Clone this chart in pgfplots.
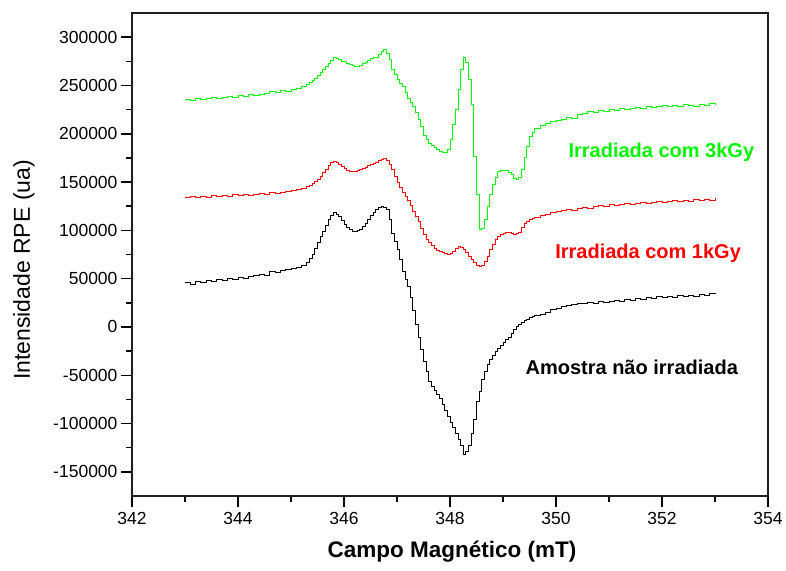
\documentclass[border=0pt]{standalone}
\usepackage{fontspec}
\setmainfont{Liberation Sans}
\usepackage{pgfplots}
\pgfplotsset{compat=1.18}

\definecolor{epr3k}{RGB}{0,245,0}
\definecolor{epr1k}{RGB}{255,0,0}
\definecolor{framecol}{RGB}{30,30,30}

\begin{document}
\begin{tikzpicture}
\useasboundingbox (-132pt,-74pt) rectangle (654pt,496pt);
\begin{axis}[
  name=epr,
  scale only axis,
  width=636pt, height=483pt,
  xmin=342, xmax=354,
  ymin=-175000, ymax=325000,
  xtick={342,344,...,354},
  ytick={-150000,-100000,...,300000},
  minor x tick num=1,
  minor y tick num=1,
  tick pos=left,
  tick align=outside,
  major tick length=11pt,
  minor tick length=5.5pt,
  major tick style={black, line width=1.5pt},
  minor tick style={black, line width=1.5pt},
  axis line style={line width=2.4pt},
  scaled y ticks=false,
  /pgf/number format/assume math mode=true,
  yticklabel style={/pgf/number format/fixed, /pgf/number format/1000 sep={}},
  xticklabel style={/pgf/number format/1000 sep={}},
  ticklabel style={font=\fontsize{17.5}{20}\selectfont},
  xticklabel style={yshift=-2pt},
  xlabel={\bfseries Campo Magnético (mT)},
  ylabel={Intensidade RPE (ua)},
  every axis x label/.style={at={(axis description cs:0.503,-0.116)}, anchor=center, font=\fontsize{22.5}{26}\selectfont},
  every axis y label/.style={at={(axis description cs:-0.170,0.468)}, rotate=90, anchor=center, font=\fontsize{23}{26}\selectfont},
  every axis plot/.append style={const plot, line width=0.9pt, line join=miter},
]

% sample irradiated with 3 kGy
\addplot[epr3k] coordinates {
(343.0,235500) (343.1,234400) (343.2,236500) (343.3,235500) (343.4,236500)
(343.5,237500) (343.6,236500) (343.7,237500) (343.8,238600) (343.9,237500)
(344.0,239600) (344.1,238600) (344.2,240600) (344.3,239600) (344.4,240600)
(344.5,241700) (344.6,243700) (344.7,242700) (344.8,244800) (344.9,243700)
(345.0,245800) (345.1,246800) (345.2,248900) (345.3,251000)
(345.35,253000) (345.4,255100) (345.45,257200) (345.5,260300) (345.55,263400)
(345.6,266500) (345.65,269600) (345.7,272700) (345.75,275800) (345.8,279000)
(345.85,277900) (345.9,276900) (345.95,274800) (346.0,274800) (346.05,272700)
(346.1,271700) (346.15,270700) (346.2,269600) (346.25,269600) (346.3,270700)
(346.35,272700) (346.4,273700) (346.45,275800) (346.5,277900) (346.55,279000)
(346.6,279000) (346.65,282000) (346.7,285200) (346.75,287200) (346.8,283100)
(346.85,276900) (346.9,266500) (346.95,261300) (347.0,256200) (347.05,252000)
(347.1,248900) (347.15,242700) (347.2,236500) (347.25,232400) (347.3,228200)
(347.35,222000) (347.4,214800) (347.45,207500) (347.5,198200) (347.55,194100)
(347.6,190000) (347.65,187900) (347.7,185800) (347.75,183700) (347.8,181600)
(347.85,180600) (347.9,180600) (347.95,183700) (348.0,194100) (348.05,209600)
(348.1,225100) (348.15,245800) (348.2,266500) (348.25,279000) (348.3,273700)
(348.35,256200) (348.4,230300) (348.45,176500) (348.5,137100) (348.55,100900)
(348.6,101900) (348.65,111300) (348.7,124700) (348.75,137100) (348.8,147500)
(348.85,154700) (348.9,160900) (348.95,162000) (349.0,162000) (349.05,162000)
(349.1,159900) (349.15,157800) (349.2,153700) (349.25,152700) (349.3,154700)
(349.35,163000) (349.4,175400) (349.45,186800) (349.5,197200) (349.55,201300)
(349.6,205400) (349.7,208600) (349.8,210600) (349.9,212700) (350.0,213700)
(350.1,214800) (350.2,216800) (350.3,215800) (350.4,219900) (350.5,221000)
(350.6,223000) (350.7,222000) (350.8,224100) (350.9,223000) (351.0,225100)
(351.1,224100) (351.2,226200) (351.3,225100) (351.4,226200) (351.5,227200)
(351.6,226200) (351.7,228200) (351.8,227200) (351.9,228200) (352.0,229300)
(352.1,228200) (352.2,229300) (352.3,228200) (352.4,230300) (352.5,229300)
(352.6,228200) (352.7,230300) (352.8,229300) (352.9,231300) (353.0,229300)
};

% sample irradiated with 1 kGy
\addplot[epr1k] coordinates {
(343.0,134000) (343.1,135100) (343.2,134000) (343.3,135100) (343.4,134000)
(343.5,136100) (343.6,135100) (343.7,136100) (343.8,135100) (343.9,137100)
(344.0,136100) (344.1,137100) (344.2,136100) (344.3,137100) (344.4,138200)
(344.5,137100) (344.6,139200) (344.7,138200) (344.8,139200) (344.9,140200)
(345.0,141300) (345.1,142300) (345.2,143400) (345.3,145400)
(345.35,146500) (345.4,148500) (345.45,150600) (345.5,152700) (345.55,155800)
(345.6,159900) (345.65,163000) (345.7,167200) (345.75,170300) (345.8,171300)
(345.85,170300) (345.9,168200) (345.95,166100) (346.0,164000) (346.05,162000)
(346.1,160900) (346.15,160900) (346.2,160900) (346.25,162000) (346.3,163000)
(346.35,164000) (346.4,165100) (346.45,167200) (346.5,168200) (346.55,169300)
(346.6,170300) (346.65,172400) (346.7,173400) (346.75,174400) (346.8,172400)
(346.85,168200) (346.9,163000) (346.95,155800) (347.0,149600) (347.05,144400)
(347.1,139200) (347.15,135100) (347.2,130900) (347.25,125800) (347.3,119500)
(347.35,114400) (347.4,109200) (347.45,101900) (347.5,95700) (347.55,90600)
(347.6,87500) (347.65,84400) (347.7,81200) (347.75,79200) (347.8,78100)
(347.85,77100) (347.9,76000) (347.95,75000) (348.0,76000) (348.05,78100)
(348.1,81200) (348.15,83300) (348.2,82300) (348.25,80200) (348.3,77100)
(348.35,73000) (348.4,69900) (348.45,66800) (348.5,63600) (348.55,62600)
(348.6,63600) (348.65,67800) (348.7,73000) (348.75,80200) (348.8,85400)
(348.85,90600) (348.9,93700) (348.95,95700) (349.0,96800) (349.05,97800)
(349.1,97800) (349.15,96800) (349.2,95700) (349.25,96800) (349.3,97800)
(349.35,103000) (349.4,107100) (349.45,109200) (349.5,111300) (349.55,112300)
(349.6,113300) (349.7,115400) (349.8,116400) (349.9,118500)
(350.0,119500) (350.1,120600) (350.2,121600) (350.3,120600) (350.4,122700)
(350.5,123700) (350.6,122700) (350.7,124700) (350.8,125800) (350.9,124700)
(351.0,126800) (351.1,125800) (351.2,126800) (351.3,127800) (351.4,126800)
(351.5,127800) (351.6,128900) (351.7,127800) (351.8,128900) (351.9,129900)
(352.0,128900) (352.1,129900) (352.2,130900) (352.3,129900) (352.4,130900)
(352.5,129900) (352.6,132000) (352.7,130900) (352.8,132000) (352.9,130900)
(353.0,133000)
};

% non-irradiated sample
\addplot[black] coordinates {
(343.0,46100) (343.1,44000) (343.2,47100) (343.3,46100) (343.4,48100)
(343.5,47100) (343.6,49200) (343.7,48100) (343.8,50200) (343.9,49200)
(344.0,51200) (344.1,50200) (344.2,52300) (344.3,53300) (344.4,54400)
(344.5,53300) (344.6,57400) (344.7,56400) (344.8,58500) (344.9,59500)
(345.0,60600) (345.1,61600) (345.2,63600) (345.3,66800)
(345.35,70900) (345.4,75000) (345.45,81200) (345.5,87500) (345.55,93700)
(345.6,98800) (345.65,105100) (345.7,111300) (345.75,115400) (345.8,118500)
(345.85,116400) (345.9,114400) (345.95,110200) (346.0,106100) (346.05,103000)
(346.1,100900) (346.15,98800) (346.2,98800) (346.25,99900) (346.3,100900)
(346.35,104000) (346.4,107100) (346.45,111300) (346.5,115400) (346.55,118500)
(346.6,121600) (346.65,123700) (346.7,124700) (346.75,123700) (346.8,121600)
(346.85,111300) (346.9,96800) (346.95,88500) (347.0,80200) (347.05,69900)
(347.1,57400) (347.15,49200) (347.2,41900) (347.25,30500) (347.3,17100)
(347.35,2600) (347.4,-11000) (347.45,-23300) (347.5,-35700) (347.55,-46100)
(347.6,-56400) (347.65,-61600) (347.7,-65700) (347.75,-69900) (347.8,-74000)
(347.85,-80200) (347.9,-86400) (347.95,-92600) (348.0,-98800) (348.05,-104000)
(348.1,-110200) (348.15,-116400) (348.2,-122600) (348.25,-132000) (348.3,-128900)
(348.35,-122600) (348.4,-110200) (348.45,-95700) (348.5,-77100) (348.55,-66800)
(348.6,-54300) (348.65,-46100) (348.7,-38800) (348.75,-33600) (348.8,-29500)
(348.85,-25400) (348.9,-22200) (348.95,-19200) (349.0,-16000) (349.05,-12900)
(349.1,-11300) (349.15,-6700) (349.2,-2600) (349.25,500) (349.3,2600)
(349.35,4700) (349.4,6700) (349.45,7800) (349.5,9800) (349.55,10900)
(349.6,11900) (349.7,12900) (349.8,15000) (349.9,18100) (350.0,19200)
(350.1,21200) (350.2,22300) (350.3,23300) (350.4,24300) (350.5,24300)
(350.6,25400) (350.7,24300) (350.8,26400) (350.9,25400) (351.0,26400)
(351.1,27400) (351.2,26400) (351.3,28500) (351.4,27400) (351.5,29500)
(351.6,28500) (351.7,30500) (351.8,29500) (351.9,31600) (352.0,30500)
(352.1,31600) (352.2,30500) (352.3,32600) (352.4,31600) (352.5,32600)
(352.6,31600) (352.7,33600) (352.8,32600) (352.9,34700) (353.0,33600)
};

\begin{scope}[font=\fontsize{20}{24}\selectfont\bfseries]
\node[anchor=west, text=epr3k] at (axis cs:350.17,181000) {Irradiada com 3kGy};
\node[anchor=west, text=epr1k] at (axis cs:349.92,76500) {Irradiada com 1kGy};
\node[anchor=west, text=black] at (axis cs:349.36,-42000) {Amostra não irradiada};
\end{scope}
\end{axis}
% frame on all four sides, as filled bands
\fill[framecol] (-1.2pt,481.8pt) rectangle (637.2pt,484.2pt);
\fill[framecol] (634.8pt,-1.2pt) rectangle (637.2pt,484.2pt);
\fill[framecol] (-1.2pt,-1.2pt) rectangle (637.2pt,1.2pt);
\fill[framecol] (-1.2pt,-1.2pt) rectangle (1.2pt,484.2pt);
\end{tikzpicture}
\end{document}
